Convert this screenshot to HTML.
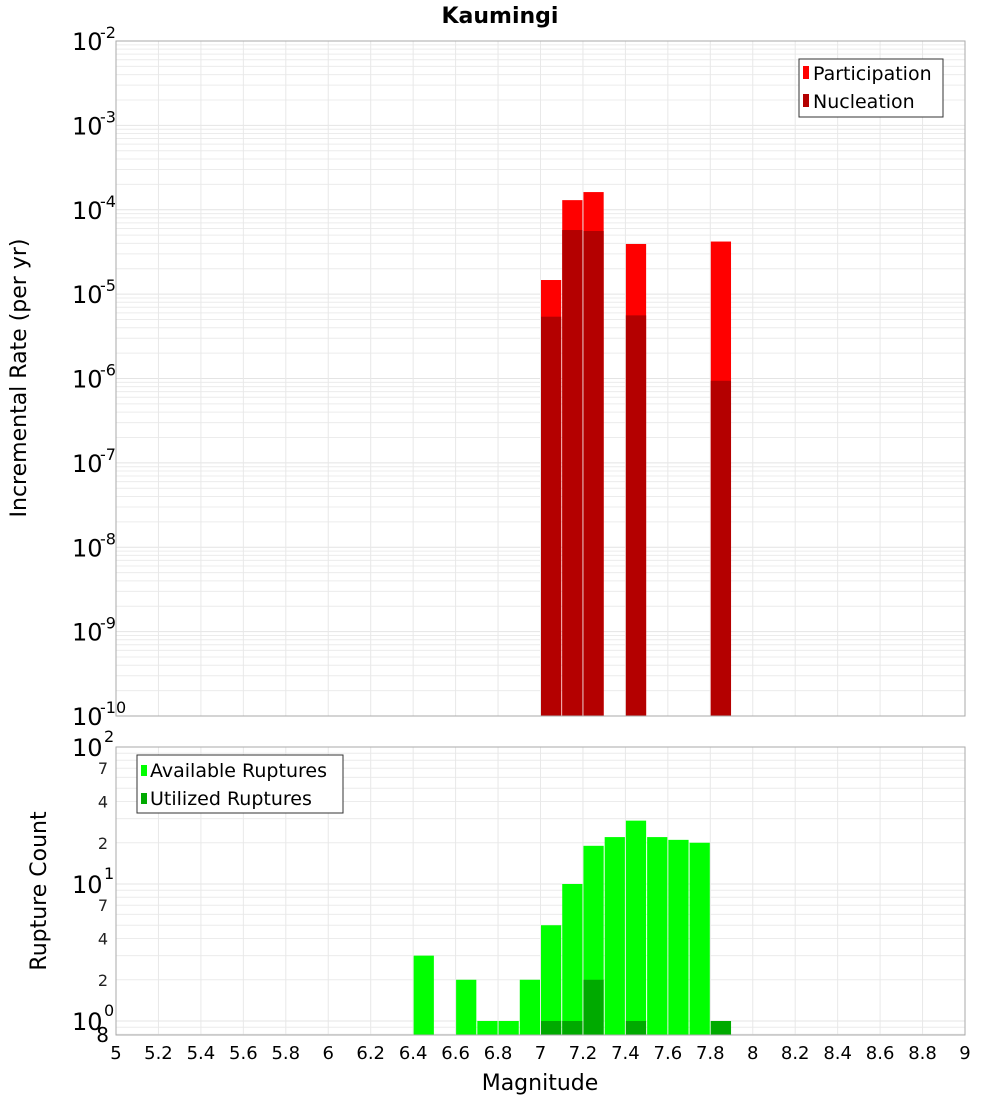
<!DOCTYPE html>
<html><head><meta charset="utf-8"><style>
body{margin:0;background:#fff}
svg{display:block;font-family:"DejaVu Sans","Liberation Sans",sans-serif}
</style></head><body>
<svg id="c" width="1000" height="1100" xmlns="http://www.w3.org/2000/svg">
<text x="500" y="23" text-anchor="middle" font-size="22" font-weight="bold">Kaumingi</text>
<g id="gtop"></g>
<g id="gbot"></g>
<text transform="translate(26,378) rotate(-90)" text-anchor="middle" font-size="22">Incremental Rate (per yr)</text>
<text transform="translate(46,891) rotate(-90)" text-anchor="middle" font-size="22">Rupture Count</text>
<text x="540" y="1090" text-anchor="middle" font-size="22">Magnitude</text>
<g id="legends">
<g>
<rect x="799" y="59" width="144" height="58" fill="#fff" stroke="#333"/>
<rect x="803" y="66" width="6" height="13" fill="#ff0000"/>
<text x="813" y="80" font-size="19">Participation</text>
<rect x="803" y="94" width="6" height="13" fill="#b40000"/>
<text x="813" y="108" font-size="19">Nucleation</text>
</g>
<g>
<rect x="137" y="755" width="206" height="58" fill="#fff" stroke="#333"/>
<rect x="141" y="765" width="6" height="11" fill="#00ff00"/>
<text x="150" y="777" font-size="19">Available Ruptures</text>
<rect x="141" y="793" width="6" height="11" fill="#00aa00"/>
<text x="150" y="805" font-size="19">Utilized Ruptures</text>
</g>
</g>
</svg>
<script>
const rateMags=[7.05,7.15,7.25,7.45,7.85];
const participation=[1.47e-5,1.3e-4,1.62e-4,3.93e-5,4.2e-5];
const nucleation=[5.4e-6,5.75e-5,5.6e-5,5.6e-6,9.4e-7];
const countMags=[6.45,6.65,6.75,6.85,6.95,7.05,7.15,7.25,7.35,7.45,7.55,7.65,7.75,7.85];
const available=[3,2,1,1,2,5,10,19,22,29,22,21,20,1];
const utilized=[0,0,0,0,0,1,1,2,0,1,0,0,0,1];
const xTicks=["5","5.2","5.4","5.6","5.8","6","6.2","6.4","6.6","6.8","7","7.2","7.4","7.6","7.8","8","8.2","8.4","8.6","8.8","9"];

const NS="http://www.w3.org/2000/svg";
const PL=116,PR=965;
const xs=m=>PL+(m-5)/4*(PR-PL);
const T1=41,B1=716,yTop=v=>T1+(-2-Math.log10(v))*(B1-T1)/8;
const T2=747,B2=1035,D2=137,yBot=v=>T2+(2-Math.log10(v))*D2;
function mk(p,t,a){const e=document.createElementNS(NS,t);for(const k in a)e.setAttribute(k,a[k]);p.appendChild(e);return e;}
const gTop=document.getElementById('gtop'),gBot=document.getElementById('gbot'),svgEl=document.getElementById('c');

for(const [g,T,B,f,lo,hi] of [[gTop,T1,B1,yTop,-10,-2],[gBot,T2,B2,yBot,-1,2]]){
  for(let d=lo;d<hi;d++)for(let k=1;k<10;k++){const v=k*Math.pow(10,d);const y=f(v);if(y<T-0.5||y>B+0.5)continue;
    const ln=mk(g,'line',{x1:PL,x2:PR,y1:y,y2:y,stroke:k==1?'#e4e4e4':'#ececec','stroke-width':1});
    
    }
  xTicks.forEach(t=>{const x=xs(+t);const ln=mk(g,'line',{x1:x,x2:x,y1:T,y2:B,stroke:'#e8e8e8'});
    
    });
}
const bw=(PR-PL)/40;
rateMags.forEach((m,i)=>{
  const x=xs(m)-bw/2+0.5;
  const a=mk(gTop,'rect',{x:x,y:yTop(participation[i]),width:bw-1,height:B1-yTop(participation[i]),fill:'#ff0000'});
  
  
  const b=mk(gTop,'rect',{x:x,y:yTop(nucleation[i]),width:bw-1,height:B1-yTop(nucleation[i]),fill:'#b40000'});
  
  
});
countMags.forEach((m,i)=>{
  const x=xs(m)-bw/2+0.5;
  if(available[i]>0){const a=mk(gBot,'rect',{x:x,y:yBot(available[i]),width:bw-1,height:B2-yBot(available[i]),fill:'#00ff00'});
  
  }
  if(utilized[i]>0){const b=mk(gBot,'rect',{x:x,y:yBot(utilized[i]),width:bw-1,height:B2-yBot(utilized[i]),fill:'#00aa00'});
  
  }
});
mk(gTop,'rect',{x:PL,y:T1,width:PR-PL,height:B1-T1,fill:'none',stroke:'#aaa'});
mk(gBot,'rect',{x:PL,y:T2,width:PR-PL,height:B2-T2,fill:'none',stroke:'#aaa'});
for(let d=-10;d<=-2;d++){const y=yTop(Math.pow(10,d));
  const t=mk(svgEl,'text',{x:72,y:y+9,'font-size':24});
  
  
  t.textContent='10';
  const s=mk(svgEl,'text',{x:100,y:y-3,'font-size':16});
  
  
  s.textContent=String(d);}
for(let d=0;d<=2;d++){const y=yBot(Math.pow(10,d));
  const t=mk(svgEl,'text',{x:72,y:y+9,'font-size':24});
  
  
  t.textContent='10';
  const s=mk(svgEl,'text',{x:104,y:y-5,'font-size':16});
  
  
  s.textContent=String(d);}
for(const v of [2,4,7,20,40,70]){const t=mk(svgEl,'text',{x:108,y:yBot(v)+6,'font-size':16,'text-anchor':'end',fill:'#222'});
  
  
  t.textContent=String(v)[0];}
{const t=mk(svgEl,'text',{x:109,y:1042,'font-size':20,'text-anchor':'end'});
 
 
 t.textContent='8';}
xTicks.forEach(tk=>{const t=mk(svgEl,'text',{x:xs(+tk),y:1059,'font-size':18,'text-anchor':'middle'});
  
  
  t.textContent=tk;});
svgEl.appendChild(document.getElementById('legends'));
</script>
</body></html>
